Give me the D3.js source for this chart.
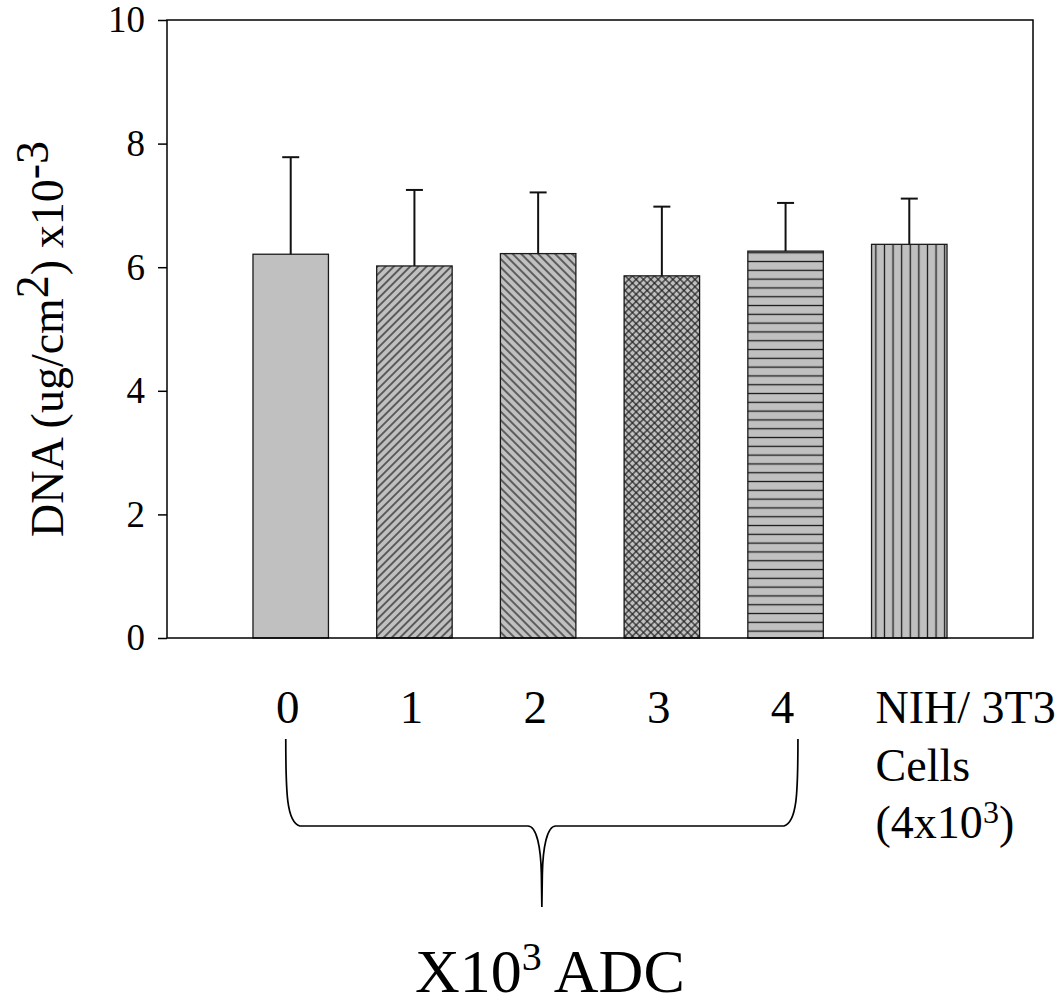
<!DOCTYPE html>
<html>
<head>
<meta charset="utf-8">
<script src="https://cdn.jsdelivr.net/npm/d3@7"></script>
<style>
  body { margin: 0; background: #fff; }
</style>
</head>
<body>
<div class="svg-wrapper"></div>
<script>
// values (DNA, ug/cm2 x10-3)
const categories = [0, 1, 2, 3, 4, 5];
const xLabels = ["0", "1", "2", "3", "4"];
const means = [6.21, 6.02, 6.22, 5.86, 6.26, 6.37];
const errors = [1.57, 1.23, 0.99, 1.12, 0.78, 0.74];
const fills = ["plain", "diag-up", "diag-down", "cross", "horiz", "vert"];
const yTicks = [0, 2, 4, 6, 8, 10];

const FONT = "Liberation Serif, Times New Roman, serif";
const width = 1064, height = 998;
const margin = {top: 20, right: 31, bottom: 360, left: 167};
const innerWidth = width - margin.left - margin.right;
const innerHeight = height - margin.top - margin.bottom;

const svg = d3.select(".svg-wrapper")
  .append("svg")
  .attr("width", width)
  .attr("height", height)
  .style("display", "block")
  .attr("viewBox", `0 0 ${width} ${height}`);

const xScale = d3.scaleLinear()
  .domain([-1, 6])
  .range([margin.left, margin.left + innerWidth]);

const yScale = d3.scaleLinear()
  .domain([0, 10])
  .range([margin.top + innerHeight, margin.top]);

const barWidth = xScale(0.61) - xScale(0);
const barLeft = i => xScale(categories[i]) - barWidth / 2;

// hatch patterns
const defs = svg.append("defs");
const hatch = "#1a1a1a";

function addPattern(id, w, h, transform, x, y) {
  const p = defs.append("pattern")
    .attr("id", id)
    .attr("patternUnits", "userSpaceOnUse")
    .attr("width", w)
    .attr("height", h)
    .attr("x", x || 0)
    .attr("y", y || 0);
  if (transform) p.attr("patternTransform", transform);
  p.append("rect").attr("width", w).attr("height", h).attr("fill", "#c0c0c0");
  return p;
}

let p = addPattern("diag-up", 5.8, 5.8, "rotate(45)");
p.append("line").attr("x1", 2.9).attr("x2", 2.9).attr("y1", 0).attr("y2", 5.8)
  .attr("stroke", hatch).attr("stroke-width", 1.2);

p = addPattern("diag-down", 6, 6, "rotate(-45)");
p.append("line").attr("x1", 3).attr("x2", 3).attr("y1", 0).attr("y2", 6)
  .attr("stroke", hatch).attr("stroke-width", 1.2);

p = addPattern("cross", 5.2, 5.2, "rotate(45)");
p.append("line").attr("x1", 2.6).attr("x2", 2.6).attr("y1", 0).attr("y2", 5.2)
  .attr("stroke", hatch).attr("stroke-width", 1.1);
p.append("line").attr("y1", 2.6).attr("y2", 2.6).attr("x1", 0).attr("x2", 5.2)
  .attr("stroke", hatch).attr("stroke-width", 1.1);

p = addPattern("horiz", 10, 8.8, null, 0, yScale(means[4]) + 6);
p.append("line").attr("x1", 0).attr("x2", 10).attr("y1", 4.4).attr("y2", 4.4)
  .attr("stroke", hatch).attr("stroke-width", 1.3);

p = addPattern("vert", 8.6, 10, null, barLeft(5), 0);
p.append("line").attr("x1", 4.3).attr("x2", 4.3).attr("y1", 0).attr("y2", 10)
  .attr("stroke", hatch).attr("stroke-width", 1.3);

// bars
svg.append("g")
  .selectAll("rect")
  .data(categories)
  .join("rect")
    .attr("x", (d, i) => barLeft(i))
    .attr("y", (d, i) => yScale(means[i]))
    .attr("width", barWidth)
    .attr("height", (d, i) => yScale(0) - yScale(means[i]))
    .attr("fill", (d, i) => fills[i] == "plain" ? "#c0c0c0" : `url(#${fills[i]})`)
    .attr("stroke", "#1a1a1a")
    .attr("stroke-width", 1.3);

// upper error bars
const errG = svg.append("g")
  .attr("stroke", "#111")
  .attr("stroke-width", 2);

categories.forEach(function(d, i){
  const cx = xScale(d);
  const top = yScale(means[i] + errors[i]);
  errG.append("line")
    .attr("x1", cx).attr("x2", cx)
    .attr("y1", yScale(means[i])).attr("y2", top);
  errG.append("line")
    .attr("x1", cx - 8.5).attr("x2", cx + 8.5)
    .attr("y1", top).attr("y2", top);
});

// frame
svg.append("rect")
  .attr("x", margin.left)
  .attr("y", margin.top)
  .attr("width", innerWidth)
  .attr("height", innerHeight)
  .attr("fill", "none")
  .attr("stroke", "#000")
  .attr("stroke-width", 1.5);

// y axis
const yAxis = d3.axisLeft(yScale)
  .tickValues(yTicks)
  .tickSize(9)
  .tickPadding(13)
  .tickFormat(d3.format("d"));

const yAxisG = svg.append("g")
  .attr("transform", `translate(${margin.left},0)`)
  .call(yAxis)
  .attr("font-family", FONT)
  .attr("font-size", 37);
yAxisG.select(".domain").remove();
yAxisG.selectAll(".tick line").attr("stroke", "#000").attr("stroke-width", 1.5);
yAxisG.selectAll(".tick text").attr("fill", "#000");

const yLabel = svg.append("text")
  .attr("transform", `translate(63,339) rotate(-90)`)
  .attr("text-anchor", "middle")
  .attr("font-family", FONT)
  .attr("font-size", 46)
  .attr("fill", "#000");
yLabel.append("tspan").text("DNA (ug/cm");
yLabel.append("tspan").attr("dy", -15).text("2");
yLabel.append("tspan").attr("dy", 15).text(") x10");
yLabel.append("tspan").attr("dy", -15).text("-3");

// category labels
const labelY = 723;
svg.append("g")
  .attr("font-family", FONT)
  .attr("font-size", 47)
  .selectAll("text")
  .data(xLabels)
  .join("text")
    .attr("x", (d, i) => xScale(categories[i]) - 3)
    .attr("y", labelY)
    .attr("text-anchor", "middle")
    .text(d => d);

const cellX = barLeft(5) + 4;
const cellLabel = svg.append("text")
  .attr("x", cellX)
  .attr("y", labelY)
  .attr("font-family", FONT)
  .attr("font-size", 46);
cellLabel.append("tspan").text("NIH/ 3T3");
cellLabel.append("tspan").attr("x", cellX).attr("y", labelY + 58).text("Cells");
cellLabel.append("tspan").attr("x", cellX).attr("y", labelY + 115).text("(4x10");
cellLabel.append("tspan").attr("dy", -15).attr("font-size", 32).text("3");
cellLabel.append("tspan").attr("dy", 15).text(")");

// brace under 0-4
const xl = xScale(-0.04), xr = xScale(4.1), xm = (xl + xr) / 2;
const yTop = 739, yMid = 826, yTip = 907;

function halfBrace(xe, s){
  const path = d3.path();
  path.moveTo(xe, yTop);
  path.bezierCurveTo(xe, yTop + 55, xe + s * 1, yMid - 4, xe + s * 14, yMid);
  path.lineTo(xm - s * 14, yMid);
  path.bezierCurveTo(xm - s * 5, yMid, xm - s * 1, yMid + 22, xm - s * 0.5, yMid + 48);
  path.lineTo(xm, yTip);
  return path.toString();
}

svg.append("path")
  .attr("d", halfBrace(xl, 1) + halfBrace(xr, -1))
  .attr("fill", "none")
  .attr("stroke", "#000")
  .attr("stroke-width", 1.7);

const title = svg.append("text")
  .attr("x", xm + 8)
  .attr("y", 992)
  .attr("text-anchor", "middle")
  .attr("font-family", FONT)
  .attr("font-size", 62);
title.append("tspan").text("X10");
title.append("tspan").attr("dy", -22).attr("font-size", 40).text("3");
title.append("tspan").attr("dy", 22).text(" ADC");
</script>
</body>
</html>
